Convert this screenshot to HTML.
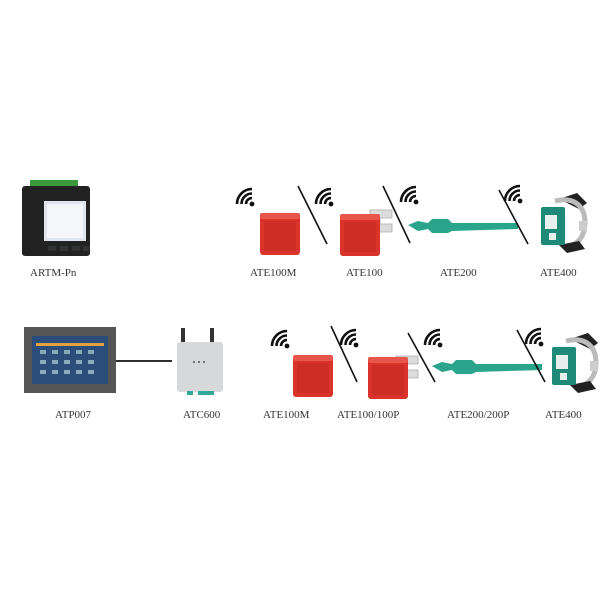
<!DOCTYPE html>
<html><head><meta charset="utf-8"><style>
html,body{margin:0;padding:0;background:#fff}
svg{display:block}
text{font-family:"Liberation Serif",serif;font-size:11px;fill:#333}
</style></head><body>
<svg width="600" height="600" viewBox="0 0 600 600" xmlns="http://www.w3.org/2000/svg">
<defs>
<g id="wifi">
<circle cx="0" cy="0" r="2.4" fill="#111"/>
<path d="M-6,0 A6,6 0 0 1 0,-6 M-10.5,0 A10.5,10.5 0 0 1 0,-10.5 M-15,0 A15,15 0 0 1 0,-15" fill="none" stroke="#111" stroke-width="2.6"/>
</g>
<g id="redbox">
<rect x="0" y="0" width="40" height="42" rx="3" fill="#d9332a"/>
<rect x="0" y="0" width="40" height="6" rx="2" fill="#e8554a"/>
<rect x="4" y="8" width="32" height="30" fill="#cc2d25"/>
</g>
<g id="fork">
<path d="M0,0 H22 V8 H10 V14 H22 V22 H0 Z" fill="#dcdcdc" stroke="#aaa" stroke-width="0.8"/>
</g>
<g id="ate400">
<path d="M18,2 L36,-4 L46,6 L38,12 Z" fill="#222"/>
<path d="M14,4 C30,0 44,6 44,26 C44,40 36,48 26,50" fill="none" stroke="#bbb" stroke-width="5"/>
<rect x="38" y="24" width="8" height="10" fill="#ccc"/>
<path d="M18,48 L38,44 L44,52 L26,56 Z" fill="#222"/>
<rect x="0" y="10" width="24" height="38" rx="2" fill="#1f8a78"/>
<rect x="4" y="18" width="12" height="14" fill="#e8f0ee"/>
<rect x="8" y="36" width="7" height="7" fill="#e8f0ee"/>
</g>
<g id="strap">
<path d="M0,6 L10,2 L20,4 L24,0 L40,0 L44,4 L110,4 L110,10 L44,12 L40,14 L24,14 L20,10 L10,12 Z" fill="#2aa58c"/>
</g>
</defs>

<!-- TOP ROW -->
<!-- ARTM-Pn -->
<rect x="30" y="180" width="48" height="10" fill="#3c9a3c"/>
<rect x="22" y="186" width="68" height="70" rx="3" fill="#222"/>
<rect x="44" y="201" width="42" height="40" fill="#dfe6ee"/>
<rect x="47" y="204" width="36" height="34" fill="#f4f6fa"/>
<g fill="#333"><rect x="48" y="246" width="8" height="5"/><rect x="60" y="246" width="8" height="5"/><rect x="72" y="246" width="8" height="5"/><rect x="83" y="246" width="6" height="5"/></g>
<text x="30" y="276">ARTM-Pn</text>

<use href="#wifi" x="252" y="204"/>
<use href="#redbox" x="260" y="213"/>
<text x="250" y="276">ATE100M</text>
<line x1="298" y1="186" x2="327" y2="244" stroke="#111" stroke-width="1.6"/>

<use href="#wifi" x="331" y="204"/>
<use href="#fork" x="370" y="210"/>
<use href="#redbox" x="340" y="214"/>
<text x="346" y="276">ATE100</text>
<line x1="383" y1="186" x2="410" y2="243" stroke="#111" stroke-width="1.6"/>

<use href="#wifi" x="416" y="202"/>
<use href="#strap" x="408" y="219"/>
<text x="440" y="276">ATE200</text>
<line x1="499" y1="190" x2="528" y2="244" stroke="#111" stroke-width="1.6"/>

<use href="#wifi" x="520" y="201"/>
<use href="#ate400" x="541" y="197"/>
<text x="540" y="276">ATE400</text>

<!-- BOTTOM ROW -->
<rect x="24" y="327" width="92" height="66" fill="#555"/>
<rect x="32" y="336" width="76" height="48" fill="#2a4d7a"/>
<rect x="36" y="343" width="68" height="3" fill="#e5a040"/>
<g fill="#8ab">
<rect x="40" y="350" width="6" height="4"/><rect x="52" y="350" width="6" height="4"/><rect x="64" y="350" width="6" height="4"/><rect x="76" y="350" width="6" height="4"/><rect x="88" y="350" width="6" height="4"/>
<rect x="40" y="360" width="6" height="4"/><rect x="52" y="360" width="6" height="4"/><rect x="64" y="360" width="6" height="4"/><rect x="76" y="360" width="6" height="4"/><rect x="88" y="360" width="6" height="4"/>
<rect x="40" y="370" width="6" height="4"/><rect x="52" y="370" width="6" height="4"/><rect x="64" y="370" width="6" height="4"/><rect x="76" y="370" width="6" height="4"/><rect x="88" y="370" width="6" height="4"/>
</g>
<text x="55" y="418">ATP007</text>
<line x1="116" y1="361" x2="172" y2="361" stroke="#111" stroke-width="1.8"/>

<rect x="181" y="328" width="4" height="16" fill="#333"/>
<rect x="210" y="328" width="4" height="16" fill="#333"/>
<rect x="177" y="342" width="46" height="50" rx="3" fill="#d6d8da"/>
<rect x="187" y="391" width="6" height="4" fill="#3a9"/><rect x="198" y="391" width="16" height="4" fill="#3a9"/>
<circle cx="194" cy="362" r="1" fill="#555"/><circle cx="199" cy="362" r="1" fill="#555"/><circle cx="204" cy="362" r="1" fill="#555"/>
<text x="183" y="418">ATC600</text>

<use href="#wifi" x="287" y="346"/>
<use href="#redbox" x="293" y="355"/>
<text x="263" y="418">ATE100M</text>
<line x1="331" y1="326" x2="357" y2="382" stroke="#111" stroke-width="1.6"/>

<use href="#wifi" x="356" y="345"/>
<use href="#fork" x="396" y="356"/>
<use href="#redbox" x="368" y="357"/>
<text x="337" y="418">ATE100/100P</text>
<line x1="408" y1="333" x2="435" y2="382" stroke="#111" stroke-width="1.6"/>

<use href="#wifi" x="440" y="345"/>
<use href="#strap" x="432" y="360"/>
<text x="447" y="418">ATE200/200P</text>
<line x1="517" y1="330" x2="545" y2="382" stroke="#111" stroke-width="1.6"/>

<use href="#wifi" x="541" y="344"/>
<use href="#ate400" x="552" y="337"/>
<text x="545" y="418">ATE400</text>
</svg>
</body></html>
